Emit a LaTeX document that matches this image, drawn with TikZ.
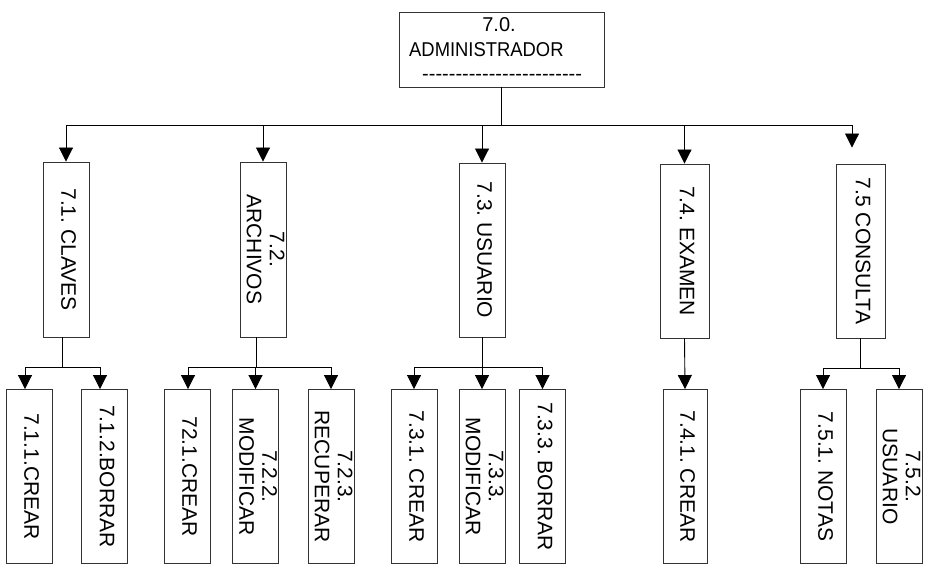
\documentclass[tikz,border=0pt]{standalone}
\usepackage{fontspec}
\usepackage{graphicx}
\setmainfont{Liberation Sans}
\usetikzlibrary{arrows.meta}
\frenchspacing

% vertical label, read top to bottom, lines separated by \\
\newcommand\vtext[1]{\rotatebox{-90}{\begin{tabular}{@{}c@{}}#1\end{tabular}}}
% a run of separate hyphens (kerns stop them from merging into dashes)
\newcommand\hyphenrun[1]{\foreach \k in {1,...,#1}{-\kern0pt}}

\tikzset{
  link/.style={draw=black, line width=0.9pt},
  arr/.style={link, -{Triangle[width=14pt,length=14pt]}},
  boxstyle/.style={draw=black!80, line width=0.9pt, fill=white, inner sep=0pt,
    font=\fontsize{21pt}{23pt}\selectfont},
  midbox/.style={boxstyle, minimum width=46pt, minimum height=175pt},
  widebox/.style={boxstyle, minimum width=49pt, minimum height=174pt},
  leafbox/.style={boxstyle, minimum width=46pt, minimum height=174pt},
  toptext/.style={inner sep=0pt, font=\fontsize{20pt}{22pt}\selectfont},
}

\begin{document}
\begin{tikzpicture}[x=1pt, y=-1pt]
  \useasboundingbox[fill=white] (0,0) rectangle (925,564);

  % root box and its three text lines
  \node[boxstyle, minimum width=205pt, minimum height=75pt] (root) at (501.5,49.5) {};
  \node[toptext, anchor=base] (rootnum) at (499,32) {7.0.};
  \node[toptext, anchor=base west] (roottitle) at (409,57)
    {\scalebox{0.92}[1]{ADMINISTRADOR}};
  \node[toptext, anchor=base west] (rootrule) at (422,81) {\hyphenrun{24}};

  % second level
  \node[midbox]  (c1) at (66,249.5)    {\vtext{7.1. CLAVES}};
  \node[midbox]  (c2) at (263,249.5)   {\vtext{7.2.\\ARCHIVOS}};
  \node[midbox, minimum height=174pt] (c3) at (482,250) {\vtext{7.3. USUARIO}};
  \node[widebox] (c4) at (684.5,251)   {\vtext{7.4. EXAMEN}};
  \node[widebox] (c5) at (860.5,251)   {\vtext{7.5 CONSULTA}};

  % third level
  \node[leafbox] (c11) at (29,476.5)    {\vtext{7.1.1.CREAR}};
  \node[leafbox] (c12) at (104.5,476.5) {\vtext{7.1.2.BORRAR}};
  \node[leafbox] (c21) at (187,476.5)   {\vtext{72.1.CREAR}};
  \node[leafbox] (c22) at (255.5,476.5) {\vtext{7.2.2.\\MODIFICAR}};
  \node[leafbox] (c23) at (331,476.5)   {\vtext{7.2.3.\\RECUPERAR}};
  \node[leafbox] (c31) at (414,476.5)   {\vtext{7.3.1. CREAR}};
  \node[leafbox] (c32) at (482,476.5)   {\vtext{7.3.3.\\MODIFICAR}};
  \node[leafbox] (c33) at (542.5,476.5) {\vtext{7.3.3. BORRAR}};
  \node[leafbox, minimum width=44pt] (c41) at (685,476.5) {\vtext{7.4.1. CREAR}};
  \node[leafbox] (c51) at (823,476.5)   {\vtext{7.5.1. NOTAS}};
  \node[leafbox] (c52) at (899,476.5)   {\vtext{7.5.2.\\USUARIO}};

  % root to second level
  \draw[link] (root.south) -- ++(0,38) coordinate (bus);
  \draw[arr] (bus) -| (c1.north);
  \draw[arr] (bus) -| (c2.north);
  \draw[arr] (bus) -| (c3.north);
  \draw[arr] (bus) -| (c4.north);
  \draw[arr] (bus) -| ([xshift=-8.5pt,yshift=16pt]c5.north);

  % 7.1 branch
  \draw[link] ([xshift=-4pt]c1.south) -- ++(0,29.5) coordinate (s1);
  \draw[arr] (s1) -| ([xshift=-4pt]c11.north);
  \draw[arr] (s1) -| ([xshift=-4.5pt]c12.north);

  % 7.2 branch
  \draw[link] ([xshift=-7pt]c2.south) -- ++(0,29.5) coordinate (s2);
  \draw[arr] (s2) -| ([xshift=1pt]c21.north);
  \draw[arr] (s2) -| (c22.north);
  \draw[arr] (s2) -| (c23.north);

  % 7.3 branch
  \draw[link] (c3.south) -- ++(0,29.5) coordinate (s3);
  \draw[arr] (s3) -| (c31.north);
  \draw[arr] (s3) -| (c32.north);
  \draw[arr] (s3) -| (c33.north);

  % 7.4 branch
  \draw[arr] (c4.south) -- (c41.north);

  % 7.5 branch
  \draw[link] (c5.south) -- ++(0,30) coordinate (s5);
  \draw[arr] (s5) -| (c51.north);
  \draw[arr] (s5) -| (c52.north);
\end{tikzpicture}
\end{document}
